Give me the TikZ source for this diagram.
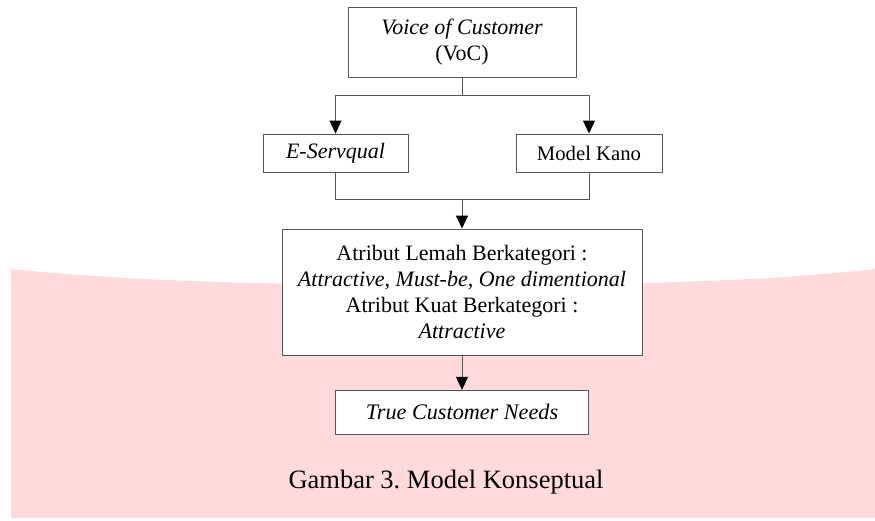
\documentclass[tikz,border=0pt]{standalone}
\usepackage{fontspec}
\setmainfont{Liberation Serif}
\usetikzlibrary{arrows.meta}
\definecolor{bgpink}{HTML}{FFDADC}
\definecolor{linegray}{HTML}{555555}
\tikzset{
  box/.style={draw=linegray, line width=0.9pt, fill=white, rectangle, align=center, inner sep=0pt, font=\fontsize{22}{26}\selectfont},
  conn/.style={draw=linegray, line width=0.9pt},
  arr/.style={conn, -{Triangle[length=13pt,width=12pt,fill=black,color=black]}}
}
\frenchspacing
\begin{document}
\begin{tikzpicture}[x=1pt,y=-1pt]
\useasboundingbox (0,0) rectangle (875,520);
% pink background band
\fill[bgpink] (11,269) .. controls (150,283) and (300,285) .. (445,285)
  .. controls (600,285) and (750,283) .. (875,269) -- (875,518) -- (11,518) -- cycle;

\node[box, minimum width=228pt, minimum height=70pt] (voc) at (462,42)
  {\textit{Voice of Customer}\\(VoC)};
\node[box, minimum width=145pt, minimum height=38pt] (es) at (335.5,153)
  {\textit{E-Servqual}};
\node[box, minimum width=146pt, minimum height=38pt, font=\fontsize{20.7}{24}\selectfont] (mk) at (589,153)
  {Model Kano};
\node[box, minimum width=360pt, minimum height=126pt] (mid) at (462,292)
  {Atribut Lemah Berkategori :\\
   \textit{Attractive, Must-be, One dimentional}\\
   Atribut Kuat Berkategori :\\
   \textit{Attractive}};
\node[box, minimum width=253pt, minimum height=44pt, font=\fontsize{22.2}{26}\selectfont] (tcn) at (462,412.3)
  {\textit{True Customer Needs}};
\node[font=\fontsize{26.5}{30}\selectfont, inner sep=0pt] (cap) at (446,482)
  {Gambar 3. Model Konseptual};

\coordinate (j1) at (462,95);
\coordinate (j2) at (462,199);

\draw[conn] (voc.south) -- (j1);
\draw[arr] (j1) -| (es.north);
\draw[arr] (j1) -| (mk.north);
\draw[conn] (es.south) |- (j2);
\draw[conn] (mk.south) |- (j2);
\draw[arr] (j2) -- (mid.north);
\draw[arr] (mid.south) -- (tcn.north);
\end{tikzpicture}
\end{document}
